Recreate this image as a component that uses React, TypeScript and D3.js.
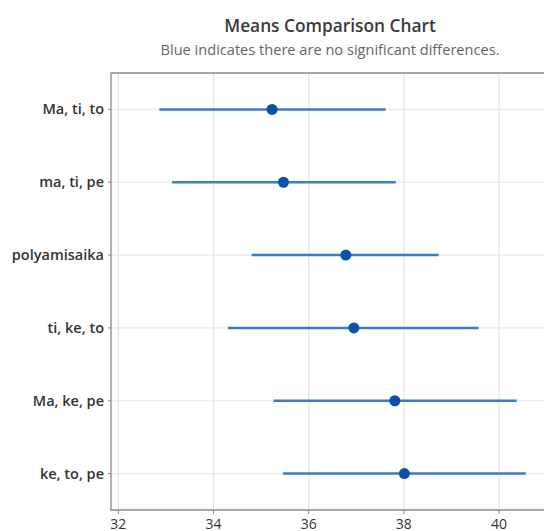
import React from "react";
import * as d3 from "d3";

const categories = ["Ma, ti, to", "ma, ti, pe", "polyamisaika", "ti, ke, to", "Ma, ke, pe", "ke, to, pe"];
const means = [35.23, 35.47, 36.78, 36.95, 37.81, 38.01];
const lower = [32.86, 33.13, 34.8, 34.3, 35.26, 35.46];
const upper = [37.62, 37.83, 38.73, 39.57, 40.37, 40.56];
const xTicks = [32, 34, 36, 38, 40, 42];

const W = 544;
const H = 531;
const M = { left: 111, right: 549, top: 73, bottom: 510 };

export default function App() {
  const x = d3.scaleLinear().domain([31.845, 41.05]).range([M.left, M.right]);
  const y = d3.scaleBand().domain(categories).range([M.top, M.bottom]);
  const yc = (c: string) => (y(c) as number) + y.bandwidth() / 2;
  const font = "'Open Sans', 'Noto Sans', sans-serif";
  const cx = (M.left + M.right) / 2;
  return (
    <svg width={W} height={H} style={{ position: "fixed", left: 0, top: 0, background: "#fff" }}>
      <text x={cx} y={32} textAnchor="middle" fontFamily={font} fontSize={17.3} fontWeight={600} fill="#3a3a3a">
        Means Comparison Chart
      </text>
      <text x={cx} y={55} textAnchor="middle" fontFamily={font} fontSize={14.6} fill="#666">
        Blue indicates there are no significant differences.
      </text>
      {xTicks.map((t) => (
        <line key={"gx" + t} x1={x(t)} x2={x(t)} y1={M.top} y2={M.bottom} stroke="#e4e4e4" strokeWidth={1.2} />
      ))}
      {categories.map((c) => (
        <line key={"gy" + c} x1={M.left} x2={M.right} y1={yc(c)} y2={yc(c)} stroke="#e8e8e8" strokeWidth={1.2} />
      ))}
      <path
        d={`M${M.right},${M.top}H${M.left}V${M.bottom}H${M.right}`}
        fill="none"
        stroke="#8a8a8a"
        strokeWidth={1.3}
      />
      {xTicks.map((t) => (
        <g key={"tx" + t}>
          <line x1={x(t)} x2={x(t)} y1={M.bottom} y2={M.bottom + 4} stroke="#8a8a8a" />
          <text x={x(t)} y={529} textAnchor="middle" fontFamily={font} fontSize={14} fill="#333">
            {t}
          </text>
        </g>
      ))}
      {categories.map((c) => (
        <g key={"ty" + c}>
          <line x1={M.left - 3} x2={M.left} y1={yc(c)} y2={yc(c)} stroke="#8a8a8a" />
          <text x={M.left - 7} y={yc(c)} dy="0.35em" textAnchor="end" fontFamily={font} fontSize={14.5} fontWeight={600} fill="#333">
            {c}
          </text>
        </g>
      ))}
      {categories.map((c, i) => (
        <g key={"m" + c}>
          <line x1={x(lower[i])} x2={x(upper[i])} y1={yc(c)} y2={yc(c)} stroke="#3b7bc8" strokeWidth={2.5} />
          <circle cx={x(means[i])} cy={yc(c)} r={5.5} fill="#0a52a8" />
        </g>
      ))}
    </svg>
  );
}
